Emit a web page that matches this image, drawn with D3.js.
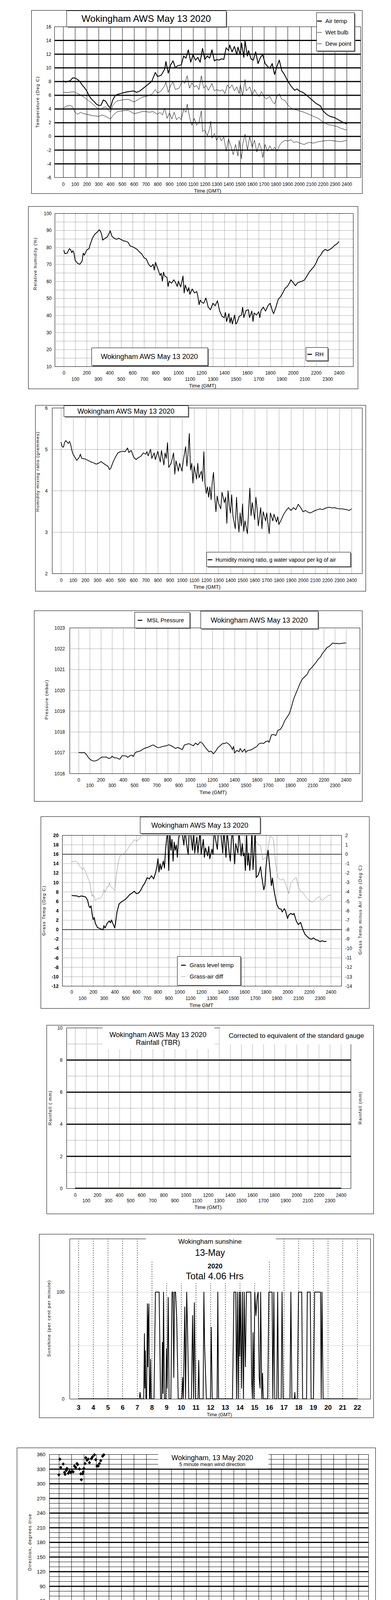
<!DOCTYPE html>
<html>
<head>
<meta charset="utf-8">
<script src="https://cdn.jsdelivr.net/npm/d3@7"></script>
<style>
  body { margin: 0; background: #fff; }
  svg { display: block; }
</style>
</head>
<body>
<svg id="chart" width="1000" height="5000"></svg>
<script>
// ---------- data (hour of day, value) ----------
const airTemp = [[0,8.1],[0.2,7.9],[0.4,8.0],[0.6,8.1],[0.8,8.5],[1,8.5],[1.2,8.3],[1.4,8.0],[1.6,7.5],[1.8,7.1],[2,6.6],[2.2,5.9],[2.4,5.4],[2.6,5.1],[2.8,4.7],[3,4.5],[3.2,4.5],[3.4,5.3],[3.6,5.1],[3.8,4.5],[4,4.1],[4.2,5.3],[4.4,5.9],[4.6,6.1],[5,6.3],[5.5,6.5],[6,6.6],[6.2,6.4],[6.5,6.6],[7,7.3],[7.5,8.0],[7.8,9.3],[8,8.7],[8.3,8.9],[8.6,9.8],[8.7,10.9],[8.9,9.2],[9.1,10.4],[9.3,11.0],[9.5,10.0],[9.7,10.3],[10,10.4],[10.2,11.7],[10.4,11.4],[10.6,12.6],[10.8,10.8],[11,11.9],[11.2,11.1],[11.4,11.5],[11.6,10.8],[11.8,12.8],[12,11.2],[12.2,11.7],[12.4,11.4],[12.6,12.6],[12.8,11.0],[13,11.2],[13.2,11.1],[13.4,11.3],[13.6,11.2],[13.8,12.9],[14,12.5],[14.1,13.3],[14.3,12.3],[14.5,13.1],[14.7,11.9],[14.8,13.0],[15,11.9],[15.1,13.6],[15.3,11.5],[15.4,13.9],[15.6,11.7],[15.7,12.5],[15.9,11.3],[16.1,11.1],[16.3,12.3],[16.5,10.6],[16.7,11.5],[16.9,11.9],[17.1,10.6],[17.3,10.2],[17.5,9.9],[17.7,10.6],[17.9,9.0],[18.1,10.2],[18.3,11.1],[18.5,9.6],[18.7,9.1],[19,8.1],[19.3,7.3],[19.6,6.7],[19.8,6.9],[20,6.6],[20.3,6.4],[20.6,6.0],[21,5.4],[21.4,4.8],[21.8,4.4],[22,3.7],[22.3,3.2],[22.6,2.9],[23,2.7],[23.3,2.4],[23.6,2.1],[24,1.8]];
const wetBulb = [[0,6.4],[0.5,6.4],[0.9,6.5],[1.0,6.4],[1.5,6.0],[2,5.4],[2.5,4.7],[2.9,4.1],[3.2,3.9],[3.4,4.2],[3.6,4.3],[3.8,3.9],[4,3.5],[4.2,4.5],[4.5,5.1],[5,5.3],[5.5,5.4],[6,5.0],[6.3,5.3],[6.7,5.7],[7,5.8],[7.5,6.1],[7.8,6.8],[8,6.3],[8.3,6.6],[8.6,7.4],[8.7,7.9],[8.9,6.4],[9.1,7.4],[9.3,7.9],[9.5,6.8],[9.8,7.0],[10.1,8.1],[10.3,7.7],[10.5,8.8],[10.7,7.0],[10.9,7.8],[11.1,7.2],[11.3,7.4],[11.5,6.8],[11.7,8.8],[11.9,7.0],[12.1,7.4],[12.3,6.7],[12.6,7.7],[12.8,6.6],[13,6.8],[13.3,6.6],[13.5,6.8],[13.7,6.2],[13.9,7.5],[14.1,7.0],[14.3,7.5],[14.5,6.6],[14.7,7.2],[14.9,6.2],[15,7.5],[15.2,5.9],[15.4,8.3],[15.5,6.6],[15.8,7.2],[16,6.0],[16.2,6.8],[16.4,6.2],[16.6,5.8],[16.8,6.5],[17,5.8],[17.2,5.4],[17.5,5.8],[17.7,5.1],[17.9,4.7],[18.1,5.8],[18.3,6.2],[18.5,5.4],[18.8,5.2],[19,4.6],[19.3,4.1],[19.6,3.9],[20,3.7],[20.4,3.5],[20.8,3.2],[21.2,2.9],[21.6,2.6],[22,2.1],[22.4,1.7],[22.8,1.6],[23.2,1.4],[23.6,1.1],[24,0.9]];
const dewPoint = [[0,4.1],[0.3,4.4],[0.6,4.5],[0.8,4.3],[1,3.5],[1.2,3.2],[1.5,3.5],[1.7,3.3],[2,3.2],[2.5,3.0],[3,2.9],[3.3,3.1],[3.6,2.9],[4,2.5],[4.3,3.2],[4.6,3.6],[5,3.7],[5.5,3.8],[6,3.3],[6.3,3.4],[6.7,3.6],[7,3.6],[7.3,3.5],[7.6,3.6],[7.8,3.4],[8,3.2],[8.2,3.5],[8.4,3.1],[8.6,4.1],[8.8,2.6],[9,3.4],[9.2,2.5],[9.4,3.5],[9.6,2.4],[9.8,2.8],[10,2.4],[10.2,3.9],[10.4,3.5],[10.5,4.7],[10.7,2.8],[10.9,1.6],[11.1,2.6],[11.3,1.6],[11.5,2.0],[11.7,3.7],[11.8,0.7],[12,0.9],[12.2,0.1],[12.4,1.1],[12.5,2.2],[12.6,-0.3],[12.8,0.4],[13,-0.6],[13.2,0.1],[13.4,-0.7],[13.6,-0.1],[13.8,-2.2],[14,-0.4],[14.2,-1.4],[14.4,-2.7],[14.6,-1.2],[14.8,-2.9],[14.9,-0.6],[15.1,-3.3],[15.2,-1.2],[15.4,0.3],[15.6,-2.0],[15.8,-0.1],[16,-1.6],[16.2,-0.6],[16.4,-2.3],[16.6,-1.0],[16.8,-2.0],[16.9,-3.1],[17.1,-1.2],[17.3,-2.2],[17.5,-1.4],[17.7,-2.1],[17.9,-1.6],[18.1,-2.2],[18.3,-1.4],[18.5,-0.9],[18.8,-0.6],[19,-0.7],[19.3,-0.5],[19.5,-0.9],[19.8,-0.8],[20,-1.0],[20.4,-1.2],[20.8,-0.9],[21.2,-1.0],[21.6,-0.8],[22,-0.7],[22.5,-0.6],[23,-0.7],[23.5,-0.8],[24,-0.6]];
const relHum = [[0,78.4],[0.1,76.3],[0.3,76.5],[0.4,78],[0.5,79.2],[0.6,78.6],[0.7,76.9],[0.8,78],[0.9,76.5],[1,72.3],[1.2,70.6],[1.4,70],[1.6,71.9],[1.7,76.5],[1.8,75.4],[2,78.4],[2.2,79.2],[2.3,81.5],[2.5,85.3],[2.7,87.6],[2.9,88.8],[3,89.5],[3.1,90.3],[3.2,89.5],[3.3,87.6],[3.4,84.2],[3.6,85.3],[3.8,86.1],[4,88.8],[4.05,89.8],[4.2,86.5],[4.4,85.3],[4.6,84.7],[4.8,85.3],[5,84.6],[5.2,83.8],[5.4,83.6],[5.6,83],[5.8,80.7],[6,80.4],[6.2,79.6],[6.4,78.8],[6.6,77.3],[6.8,76.1],[7,73.9],[7.2,73.1],[7.4,70],[7.6,68.5],[7.8,70],[7.9,66.6],[8,71.2],[8.2,67.4],[8.4,63.5],[8.5,64.7],[8.6,60.1],[8.7,65.4],[8.8,63.1],[9,62.4],[9.1,57],[9.2,60.1],[9.4,58.9],[9.6,60.9],[9.8,58.6],[9.9,57],[10,60.1],[10.2,56.7],[10.4,63.1],[10.5,53.2],[10.6,57.8],[10.8,54],[10.9,56.3],[11,52.4],[11.2,55.5],[11.4,53.2],[11.6,54],[11.7,50.9],[11.8,46.3],[11.9,49],[12,47.9],[12.2,47.1],[12.4,50.2],[12.6,44.8],[12.8,43.3],[13,47.1],[13.2,45.6],[13.4,48.6],[13.6,42.5],[13.8,39.4],[14,38.7],[14.1,41.7],[14.2,36.4],[14.4,41],[14.5,35.6],[14.6,38.7],[14.7,34.9],[14.9,40.2],[15,34.9],[15.1,35.6],[15.3,39.4],[15.5,40.2],[15.6,44.8],[15.7,38.7],[15.9,42.9],[16.1,43.3],[16.2,38.7],[16.4,42.5],[16.5,36.4],[16.6,41.4],[16.8,40.2],[17,42.1],[17.1,38.7],[17.2,42.9],[17.4,44.8],[17.6,42.5],[17.8,45.6],[18,47.1],[18.2,42.5],[18.3,41],[18.5,44.8],[18.7,49.4],[18.9,50.9],[19.1,53.2],[19.3,55.9],[19.5,57],[19.7,59.3],[19.8,60.9],[20,59.3],[20.2,57.4],[20.4,59.2],[20.6,59.7],[20.8,60.1],[21,60.9],[21.2,63.1],[21.4,65.4],[21.6,67],[21.8,68.5],[22,70.8],[22.2,73.9],[22.4,75.4],[22.6,77.7],[22.8,78.8],[23,78],[23.2,78.8],[23.4,79.6],[23.6,81.1],[23.8,81.9],[24,83.4]];
const mixRatio = [[0,5.17],[0.1,5.06],[0.2,5.05],[0.3,5.16],[0.4,5.21],[0.5,5.17],[0.6,5.14],[0.7,5.19],[0.8,5.11],[0.9,4.97],[1,4.88],[1.2,4.78],[1.3,4.73],[1.5,4.80],[1.6,4.88],[1.7,4.78],[1.9,4.77],[2.1,4.75],[2.3,4.72],[2.5,4.69],[2.7,4.67],[2.9,4.64],[3.1,4.66],[3.3,4.70],[3.5,4.66],[3.7,4.62],[3.9,4.58],[4,4.51],[4.1,4.53],[4.3,4.69],[4.5,4.81],[4.7,4.91],[4.9,4.94],[5.1,4.95],[5.3,4.94],[5.5,5.03],[5.6,4.92],[5.8,4.97],[5.9,4.89],[6,4.81],[6.2,4.75],[6.4,4.80],[6.6,4.83],[6.8,4.91],[7,4.88],[7.1,4.94],[7.2,4.84],[7.4,5.00],[7.5,4.78],[7.7,4.91],[7.8,4.75],[8,4.95],[8.2,4.69],[8.3,4.97],[8.5,4.62],[8.6,4.91],[8.7,4.78],[8.8,5.16],[8.9,4.56],[9.1,4.66],[9.3,4.91],[9.4,4.40],[9.5,4.72],[9.7,4.47],[9.8,4.66],[10,4.47],[10.1,4.72],[10.3,5.06],[10.4,4.59],[10.5,4.91],[10.6,5.38],[10.7,4.50],[10.8,4.66],[10.9,4.18],[11,4.59],[11.2,4.28],[11.3,4.66],[11.4,4.31],[11.6,4.47],[11.7,4.22],[11.8,4.94],[11.9,4.15],[12,3.93],[12.1,4.09],[12.2,3.84],[12.3,4.09],[12.4,3.78],[12.5,4.22],[12.6,4.44],[12.7,3.84],[12.8,3.49],[12.9,3.87],[13,3.71],[13.2,3.56],[13.3,3.96],[13.5,3.71],[13.6,3.84],[13.7,3.21],[13.8,4.00],[13.9,3.65],[14,3.46],[14.1,3.90],[14.2,3.40],[14.4,3.08],[14.5,3.84],[14.6,3.34],[14.7,3.00],[14.8,3.46],[14.9,3.15],[15,3.68],[15.1,3.02],[15.2,3.27],[15.4,2.96],[15.5,3.52],[15.6,4.06],[15.7,3.40],[15.8,3.71],[16,3.30],[16.1,3.84],[16.2,3.56],[16.3,3.15],[16.5,3.59],[16.6,3.08],[16.7,3.49],[16.9,3.27],[17,3.46],[17.1,3.21],[17.2,2.96],[17.3,3.46],[17.5,3.27],[17.6,3.43],[17.8,3.24],[17.9,3.37],[18,3.18],[18.2,3.30],[18.4,3.43],[18.6,3.52],[18.8,3.59],[19,3.52],[19.2,3.59],[19.4,3.54],[19.6,3.67],[19.8,3.59],[20,3.49],[20.2,3.52],[20.4,3.48],[20.6,3.46],[20.8,3.49],[21,3.52],[21.2,3.54],[21.4,3.56],[21.6,3.54],[21.8,3.57],[22,3.59],[22.2,3.60],[22.4,3.58],[22.6,3.59],[22.8,3.57],[23,3.56],[23.2,3.56],[23.4,3.55],[23.6,3.54],[23.8,3.52],[24,3.56]];
const mslPressure = [[0,1017.01],[0.3,1016.99],[0.5,1017.01],[0.7,1016.91],[0.9,1016.75],[1.1,1016.65],[1.3,1016.60],[1.5,1016.60],[1.7,1016.64],[1.9,1016.72],[2.1,1016.79],[2.3,1016.78],[2.5,1016.79],[2.7,1016.72],[2.9,1016.75],[3,1016.83],[3.2,1016.75],[3.4,1016.75],[3.6,1016.70],[3.7,1016.68],[3.9,1016.85],[4.1,1016.85],[4.3,1016.83],[4.4,1016.77],[4.6,1016.85],[4.8,1016.88],[4.9,1016.81],[5.1,1017.01],[5.3,1017.05],[5.5,1017.07],[5.7,1017.14],[5.9,1017.20],[6.1,1017.24],[6.3,1017.27],[6.5,1017.33],[6.7,1017.37],[6.9,1017.30],[7.1,1017.24],[7.3,1017.25],[7.5,1017.29],[7.7,1017.31],[7.9,1017.33],[8.1,1017.38],[8.3,1017.33],[8.5,1017.27],[8.7,1017.20],[8.9,1017.25],[9.1,1017.20],[9.3,1017.14],[9.5,1017.37],[9.7,1017.40],[9.9,1017.43],[10.1,1017.38],[10.3,1017.33],[10.5,1017.46],[10.7,1017.37],[10.9,1017.51],[11.1,1017.46],[11.3,1017.30],[11.5,1017.17],[11.7,1017.04],[11.9,1017.07],[12.1,1016.94],[12.3,1017.07],[12.5,1017.24],[12.7,1017.33],[12.9,1017.43],[13.1,1017.44],[13.3,1017.48],[13.5,1017.40],[13.7,1017.27],[13.8,1017.14],[13.9,1017.30],[14,1016.98],[14.2,1017.11],[14.4,1017.04],[14.5,1017.20],[14.7,1017.03],[14.9,1017.17],[15,1017.01],[15.2,1017.11],[15.4,1017.12],[15.6,1017.17],[15.8,1017.24],[16,1017.30],[16.2,1017.43],[16.4,1017.46],[16.6,1017.44],[16.8,1017.53],[17,1017.56],[17.1,1017.50],[17.3,1017.85],[17.5,1017.87],[17.7,1017.82],[17.9,1018.08],[18.1,1018.11],[18.3,1018.28],[18.5,1018.54],[18.7,1018.70],[18.9,1018.86],[19.1,1019.19],[19.3,1019.58],[19.5,1019.84],[19.7,1020.10],[19.9,1020.36],[20.1,1020.55],[20.3,1020.65],[20.5,1020.75],[20.7,1020.97],[20.9,1021.07],[21.1,1021.20],[21.3,1021.33],[21.5,1021.49],[21.7,1021.59],[21.9,1021.78],[22.1,1021.91],[22.3,1022.05],[22.5,1022.11],[22.7,1022.21],[22.8,1022.27],[23,1022.24],[23.2,1022.25],[23.4,1022.23],[23.6,1022.25],[24,1022.27]];
const grassTemp = [[0,7.2],[0.5,7.1],[0.7,6.9],[0.9,7.1],[1.1,7.0],[1.3,6.9],[1.5,6.1],[1.6,5.0],[1.7,4.6],[1.8,5.0],[1.9,3.3],[2,2.1],[2.1,2.5],[2.2,1.3],[2.4,0.4],[2.6,0.2],[2.8,0.0],[2.9,-0.1],[3,0.8],[3.1,0.3],[3.3,1.3],[3.5,1.8],[3.6,1.4],[3.7,2.0],[3.8,1.4],[4,0.3],[4.1,1.8],[4.2,3.6],[4.4,5.4],[4.6,5.8],[4.8,6.1],[5,6.4],[5.2,6.9],[5.4,7.4],[5.6,7.7],[5.8,8.1],[6,7.6],[6.2,7.7],[6.4,8.3],[6.6,9.2],[6.8,9.9],[7,11.0],[7.2,10.7],[7.4,11.4],[7.6,10.7],[7.8,12.2],[7.9,13.3],[8,15.0],[8.1,12.2],[8.2,13.9],[8.3,12.7],[8.5,14.5],[8.6,13.0],[8.7,16.8],[8.8,19.3],[8.9,20.5],[9,12.5],[9.1,20.5],[9.2,16.8],[9.3,19.1],[9.4,14.5],[9.5,18.5],[9.6,16.8],[9.7,17.9],[9.8,15.3],[9.9,19.1],[10,20.5],[10.2,21],[10.4,17.9],[10.5,21],[10.7,17.3],[10.8,15.9],[10.9,21],[11,21],[11.2,16.8],[11.3,21],[11.4,16.2],[11.6,19.6],[11.7,16.2],[11.9,21],[12,15.9],[12.2,19.1],[12.3,15.3],[12.4,17.3],[12.6,15.6],[12.7,17.6],[12.8,15.0],[13,17.0],[13.1,15.9],[13.2,21],[13.4,18.2],[13.5,17.0],[13.6,21],[13.8,21],[14,16.2],[14.1,21],[14.3,15.3],[14.4,21],[14.6,16.2],[14.7,14.5],[14.8,19.1],[14.9,21],[15.1,13.9],[15.2,18.2],[15.4,16.2],[15.5,21],[15.7,15.6],[15.8,18.2],[15.9,15.6],[16,16.2],[16.1,12.5],[16.2,21],[16.3,13.6],[16.4,16.2],[16.5,12.5],[16.6,15.3],[16.7,21],[16.8,12.7],[16.9,16.2],[17,21],[17.1,11.0],[17.3,11.6],[17.5,13.3],[17.6,11.3],[17.8,8.4],[17.9,9.3],[18,13.3],[18.1,15.3],[18.2,16.8],[18.3,14.2],[18.4,11.9],[18.5,9.3],[18.6,10.9],[18.7,9.0],[18.8,7.6],[18.9,6.4],[19,5.3],[19.2,4.4],[19.4,4.3],[19.5,3.7],[19.7,4.4],[19.8,4.0],[20,2.3],[20.1,3.0],[20.3,3.4],[20.5,3.1],[20.6,3.4],[20.8,1.8],[21,1.0],[21.2,1.5],[21.4,0.1],[21.6,-1.0],[21.8,-1.5],[22,-1.9],[22.2,-2.1],[22.4,-1.8],[22.6,-2.2],[22.8,-2.3],[23,-2.6],[23.2,-2.4],[23.4,-2.6],[23.6,-2.5]];
const grassAirDiff = [[0,-0.84],[0.2,-0.80],[0.4,-0.74],[0.6,-0.98],[0.8,-1.34],[1,-1.63],[1.1,-1.41],[1.3,-1.92],[1.4,-2.2],[1.6,-2.78],[1.7,-3.06],[1.8,-3.93],[1.9,-4.5],[2,-4.28],[2.2,-4.93],[2.3,-4.86],[2.5,-4.64],[2.6,-4.79],[2.8,-4.5],[2.9,-4.21],[3,-3.78],[3.1,-4.07],[3.3,-3.42],[3.4,-3.49],[3.5,-3.06],[3.6,-3.42],[3.8,-3.64],[4,-3.85],[4.1,-2.78],[4.2,-1.77],[4.3,-1.06],[4.4,-0.48],[4.5,-0.2],[4.7,-0.05],[5,0.24],[5.2,0.52],[5.4,0.95],[5.6,1.17],[5.8,1.53],[6,1.38],[6.2,1.53],[6.4,1.81],[6.5,2.03],[6.6,2.4],[7,3.2],[8,4.5],[10,7],[12,6.5],[14,7],[16,5],[16.6,3],[16.8,2.2],[16.9,1.5],[17.1,1.3],[17.3,1.0],[17.5,0.9],[17.7,-0.63],[18,-0.34],[18.2,0.67],[18.4,2.0],[18.7,1.5],[18.8,0.1],[18.9,-1.06],[19,-1.77],[19.1,-2.5],[19.4,-2.78],[19.6,-2.63],[19.8,-3.06],[20.1,-4.21],[20.3,-3.06],[20.5,-2.78],[20.8,-2.49],[21,-3.49],[21.2,-3.93],[21.5,-4.21],[21.7,-4.57],[22,-4.93],[22.3,-5.14],[22.6,-4.79],[22.9,-4.5],[23.2,-4.93],[23.5,-4.64],[23.8,-4.36],[24,-4.43]];
const rainfall = [[0,0],[24,0]];
const sunshine = [[3,0],[7.15,0],[7.2,6],[7.25,0],[7.45,0],[7.5,61],[7.53,10],[7.56,45],[7.6,0],[7.65,0],[7.7,89],[7.73,30],[7.76,72],[7.8,89],[7.84,0],[7.88,0],[7.92,37],[7.96,0],[8.15,0],[8.25,100],[8.5,100],[8.6,0],[8.68,0],[8.72,53],[8.76,5],[8.8,100],[8.86,0],[8.95,0],[9.0,47],[9.05,10],[9.12,95],[9.18,0],[9.3,0],[9.38,100],[9.45,100],[9.5,20],[9.55,100],[9.62,100],[9.7,75],[9.8,0],[10.05,0],[10.1,20],[10.15,0],[10.25,86],[10.3,0],[10.38,100],[10.45,55],[10.52,0],[10.7,0],[10.78,78],[10.85,0],[10.9,90],[10.98,0],[11.15,0],[11.2,36],[11.25,0],[11.5,0],[11.55,100],[11.6,50],[11.72,0],[12.0,0],[12.05,67],[12.12,0],[12.45,0],[12.5,100],[12.55,0],[13.5,0],[13.6,100],[13.72,100],[13.78,0],[13.84,100],[13.9,0],[13.96,100],[14.0,40],[14.05,100],[14.12,10],[14.18,100],[14.25,0],[14.3,100],[14.38,30],[14.45,100],[14.75,100],[14.8,20],[14.86,0],[14.9,62],[14.96,0],[15.02,100],[15.1,78],[15.18,95],[15.25,100],[15.32,20],[15.38,10],[15.42,100],[15.5,0],[15.55,24],[15.6,0],[15.9,0],[15.98,100],[16.2,100],[16.25,0],[16.32,100],[16.38,0],[16.52,0],[16.58,100],[16.64,0],[16.82,0],[16.88,100],[16.95,0],[17.42,0],[17.48,100],[17.55,0],[17.72,0],[17.75,6],[17.78,0],[17.92,0],[18.0,100],[18.22,100],[18.28,0],[18.55,0],[18.6,100],[18.8,100],[18.86,0],[19.02,0],[19.1,100],[19.5,100],[19.55,0],[19.6,100],[19.68,0],[22,0]];
const windDir = [[0,318],[0.08,350],[0.15,333],[0.25,3],[0.35,340],[0.45,323],[0.5,319],[0.6,327],[0.65,331],[0.75,321],[0.85,325],[0.95,323],[1.05,325],[1.15,324],[1.25,336],[1.35,333],[1.45,341],[1.5,339],[1.65,330],[1.75,320],[1.8,308],[1.9,320],[1.95,324],[2,331],[2.1,341],[2.15,353],[2.25,348],[2.35,350],[2.45,343],[2.6,351],[2.7,355],[2.75,3],[2.85,359],[2.95,349],[3.05,336],[3.15,336],[3.25,341],[3.35,347],[3.5,356],[3.6,359],[3.65,0],[3.75,7],[3.85,11],[3.95,12],[4.05,14],[4.15,15],[4.3,19],[4.4,21],[4.5,16],[4.6,20],[4.7,21],[4.85,19],[5,27],[5.1,31],[5.2,26],[5.3,24],[5.4,27],[5.5,24],[5.6,27],[5.75,28],[5.85,25],[5.95,15],[6.05,20],[6.15,15],[6.3,30],[6.4,24],[6.55,19],[6.65,20],[6.8,23],[6.9,27],[7,19],[7.1,24],[7.25,13],[7.35,16],[7.5,21],[7.65,24],[7.8,26],[7.95,23],[8.1,9],[8.25,19],[8.35,24],[8.45,43],[8.55,56],[8.6,43],[8.75,24],[8.85,19],[9,24],[9.15,13],[9.25,23],[9.4,15],[9.5,25],[9.65,40],[9.75,33],[9.8,47],[9.95,28],[10.1,33],[10.2,24],[10.35,37],[10.45,32],[10.6,45],[10.7,25],[10.85,31],[11,21],[11.15,36],[11.3,45],[11.4,44],[11.5,31],[11.65,33],[11.8,21],[11.9,36],[12.05,31],[12.15,43],[12.3,23],[12.4,19],[12.55,15],[12.7,20],[12.85,24],[13,20],[13.1,13],[13.25,29],[13.35,12],[13.5,23],[13.65,25],[13.75,19],[13.9,32],[14,17],[14.15,23],[14.3,16],[14.4,13],[14.55,19],[14.7,36],[14.85,31],[14.95,13],[15.1,32],[15.2,41],[15.3,47],[15.4,25],[15.55,23],[15.65,36],[15.75,47],[15.9,19],[16,25],[16.15,13],[16.25,24],[16.4,28],[16.5,17],[16.65,25],[16.75,33],[16.9,23],[17.05,20],[17.2,17],[17.35,29],[17.5,20],[17.65,23],[17.8,27],[17.9,12],[18.05,33],[18.2,25],[18.35,40],[18.45,28],[18.6,23],[18.7,33],[18.85,28],[18.95,32],[19.1,25],[19.25,28],[19.4,25],[19.55,31],[19.7,35],[19.85,32],[20,37],[20.1,29],[20.25,25],[20.4,27],[20.55,28],[20.7,26],[20.85,29],[21,27],[21.15,29],[21.3,27],[21.45,23],[21.6,27],[21.75,24],[21.9,27],[22.05,23],[22.2,26],[22.35,23],[22.5,25],[22.65,24],[22.8,28],[22.9,32],[23.05,36],[23.2,24],[23.35,21],[23.5,20],[23.65,19],[23.8,17]];
const windMean = [[0,1.2],[0.2,1.4],[0.4,1.5],[0.5,2.4],[0.7,2.6],[0.9,2.9],[1.1,2.6],[1.3,3.1],[1.5,2.9],[1.7,3.3],[1.9,2.6],[2,3.9],[2.1,4.4],[2.2,3.7],[2.4,3.3],[2.6,2.9],[2.8,2.6],[3,2.2],[3.1,2.1],[3.3,2.6],[3.5,3.3],[3.7,3.7],[3.9,3.3],[4,4.8],[4.2,5.3],[4.4,6.1],[4.5,4.8],[4.7,6.6],[4.9,5.7],[5,7.7],[5.1,7.5],[5.3,5.0],[5.4,6.6],[5.6,5.0],[5.8,6.1],[6,7.5],[6.1,6.4],[6.3,4.8],[6.5,6.1],[6.7,4.4],[6.9,6.6],[7,7.9],[7.2,5.7],[7.4,6.6],[7.6,7.5],[7.8,7.0],[8,8.6],[8.1,7.0],[8.3,8.1],[8.4,9.6],[8.6,6.6],[8.8,8.3],[9,7.9],[9.2,8.6],[9.4,7.2],[9.5,8.8],[9.6,11.0],[9.7,9.2],[9.9,7.7],[10,9.4],[10.2,8.1],[10.4,7.2],[10.6,7.9],[10.8,7.5],[11,8.8],[11.2,9.9],[11.4,8.3],[11.6,9.6],[11.8,8.6],[12,9.0],[12.2,8.3],[12.4,9.9],[12.6,8.3],[12.8,9.9],[12.9,11.8],[13,10.7],[13.1,9.2],[13.3,12.9],[13.5,10.5],[13.7,8.6],[13.9,9.2],[14,5.9],[14.2,8.3],[14.4,10.1],[14.5,9.2],[14.7,9.6],[14.9,8.8],[15,10.1],[15.2,8.3],[15.4,7.7],[15.6,9.4],[15.8,8.8],[16,8.6],[16.2,9.6],[16.4,8.3],[16.5,7.5],[16.7,6.8],[16.9,7.9],[17,11.0],[17.2,9.6],[17.4,10.1],[17.6,8.6],[17.8,7.7],[18,9.6],[18.2,10.7],[18.4,9.2],[18.6,7.2],[18.8,6.1],[19,7.0],[19.2,5.3],[19.4,5.7],[19.6,4.8],[19.8,5.7],[20,6.6],[20.2,5.3],[20.4,5.5],[20.6,4.8],[20.8,5.5],[21,4.8],[21.2,5.3],[21.4,4.4],[21.6,4.6],[21.8,2.9],[22,3.1],[22.2,2.2],[22.3,2.3],[22.5,3.3],[22.7,4.2],[22.8,4.6],[23,3.1],[23.2,3.3],[23.4,3.7],[23.6,3.9],[23.8,3.7],[24,3.9]];
const windGust = [[0,1.8],[0.2,2.6],[0.3,4.4],[0.4,3.5],[0.5,5.3],[0.6,3.9],[0.8,5.7],[0.9,3.9],[1,5.3],[1.1,3.7],[1.3,6.1],[1.4,3.9],[1.6,5.3],[1.8,3.9],[2,7.9],[2.1,5.7],[2.2,4.8],[2.4,4.4],[2.6,3.1],[2.8,3.5],[3,2.6],[3.1,3.9],[3.3,5.0],[3.4,3.5],[3.6,5.7],[3.8,4.4],[3.9,7.0],[4,9.2],[4.1,6.6],[4.2,10.1],[4.3,7.5],[4.5,10.7],[4.6,6.6],[4.8,12.5],[4.9,8.3],[5,13.6],[5.1,10.5],[5.3,8.8],[5.4,10.5],[5.6,11.8],[5.7,8.3],[5.9,13.6],[6,9.2],[6.2,11.0],[6.4,9.6],[6.5,10.5],[6.6,7.0],[6.8,11.4],[6.9,8.8],[7,11.6],[7.2,8.8],[7.4,12.7],[7.5,9.6],[7.6,14.0],[7.7,10.5],[7.9,13.2],[8,15.4],[8.1,11.0],[8.3,13.6],[8.4,15.8],[8.5,11.0],[8.7,14.0],[8.8,11.4],[9,15.4],[9.1,11.0],[9.2,16.7],[9.3,12.3],[9.5,13.6],[9.6,18.9],[9.7,12.7],[9.9,15.4],[10,11.8],[10.2,14.9],[10.3,11.0],[10.5,13.2],[10.6,17.1],[10.8,12.7],[11,14.5],[11.2,20.6],[11.3,13.2],[11.5,18.0],[11.6,14.0],[11.8,16.2],[12,13.6],[12.1,18.9],[12.3,14.5],[12.5,19.7],[12.6,16.2],[12.8,17.1],[12.9,21.5],[13,17.5],[13.2,15.4],[13.3,22.4],[13.4,17.1],[13.6,15.4],[13.8,12.7],[14,11.0],[14.1,15.4],[14.3,18.4],[14.5,14.5],[14.6,18.4],[14.8,15.4],[15,17.5],[15.1,13.6],[15.3,16.2],[15.5,12.7],[15.6,17.1],[15.8,14.5],[16,16.2],[16.1,13.6],[16.3,16.2],[16.5,12.7],[16.6,16.2],[16.8,11.0],[16.9,15.4],[17,21.1],[17.2,15.4],[17.4,17.5],[17.5,13.6],[17.7,16.2],[17.9,12.7],[18,20.2],[18.2,16.2],[18.3,18.9],[18.5,15.4],[18.7,13.2],[18.8,11.0],[19,13.2],[19.2,9.2],[19.4,11.0],[19.5,8.3],[19.7,10.1],[19.9,7.5],[20,9.2],[20.2,7.5],[20.4,9.2],[20.5,6.6],[20.7,8.8],[20.9,6.6],[21,8.3],[21.2,6.1],[21.4,7.5],[21.5,5.3],[21.7,4.4],[21.8,3.1],[22,3.9],[22.2,3.1],[22.3,2.2],[22.5,4.4],[22.7,5.7],[22.8,7.7],[22.9,6.1],[23.1,5.3],[23.2,6.6],[23.4,4.8],[23.5,6.1],[23.7,5.3],[23.8,6.6],[24,4.4]];
const windLow = [[0,11.2],[0.05,12.1],[0.1,13.8],[0.15,13.2],[0.2,14.5],[0.3,13.4],[0.35,12.7],[0.4,14.9],[0.45,16.4],[0.5,18.0],[0.52,19.5],[0.55,20.8],[0.6,22.4],[0.62,24.1],[0.65,25.7],[0.7,26.5],[0.75,25.0],[0.8,24.1],[0.85,25.9],[0.9,27.6],[0.95,29.4],[1,30.9],[1.05,28.1],[1.1,26.3],[1.15,28.7],[1.2,30.3],[1.25,32.0],[1.3,33.8],[1.35,32.7],[1.4,30.3],[1.45,29.0],[1.5,27.2],[1.55,28.7],[1.6,30.9],[1.65,32.9],[1.7,34.6],[1.75,32.0],[1.8,29.4],[1.85,26.8],[1.9,24.1],[1.95,28.5],[2,32.9],[2.05,36.4],[2.1,37.7],[2.15,35.1],[2.2,33.3],[2.3,32.5],[2.35,30.9],[2.4,29.4],[2.45,27.2],[2.5,25.4],[2.55,23.7],[2.6,22.8],[2.65,24.1],[2.7,21.9],[2.75,21.1],[2.8,22.4],[2.85,21.5],[2.9,20.4],[2.95,22.4],[3,24.1],[3.05,26.3],[3.1,28.5],[3.15,31.1],[3.2,33.3],[3.25,35.5],[3.3,33.8],[3.35,32.0],[3.4,34.6],[3.45,36.8],[3.5,38.6],[3.55,39.9],[3.6,37.3],[3.65,35.1],[3.7,33.3],[3.75,30.9],[3.8,28.5],[3.85,32.0],[3.9,36.4],[3.95,39.5],[4,38.2],[21.6,39.9],[21.7,38.2],[21.8,36.4],[21.85,33.8],[21.9,30.3],[21.95,27.6],[22,26.3],[22.05,31.6],[22.1,28.9],[22.15,27.6],[22.2,25.9],[22.25,24.1],[22.3,22.4],[22.35,21.1],[22.4,23.2],[22.45,25.9],[22.5,28.5],[22.55,31.1],[22.6,33.8],[22.65,36.4],[22.7,39.0],[22.75,37.3],[22.8,36.0],[22.85,39.0],[22.9,37.3],[22.95,35.1],[23,33.8],[23.05,31.1],[23.1,28.9],[23.15,30.3],[23.2,32.0],[23.25,33.3],[23.3,30.7],[23.35,28.9],[23.4,31.1],[23.45,33.8],[23.5,36.4],[23.55,38.2],[23.6,39.5],[23.65,36.8],[23.7,38.2],[23.75,39.5],[23.8,37.7],[23.85,38.6],[23.9,37.3]];

// ---------- ticks ----------
const hourTicks = [0,1,2,3,4,5,6,7,8,9,10,11,12,13,14,15,16,17,18,19,20,21,22,23,24];
const evenHours = [0,2,4,6,8,10,12,14,16,18,20,22,24];
const oddHours = [1,3,5,7,9,11,13,15,17,19,21,23];
const sunHours = [3,4,5,6,7,8,9,10,11,12,13,14,15,16,17,18,19,20,21,22];
const windEven = [0,2,4,6,8,10,12,14,16,18,20,22];
const windOdd = [1,3,5,7,9,11,13,15,17,19,21,23];
const tempTicks = [-6,-4,-2,0,2,4,6,8,10,12,14,16];
const rhTicks = [10,20,30,40,50,60,70,80,90,100];
const rhGrid = [15,20,25,30,35,40,45,50,55,60,65,70,75,80,85,90,95];
const mixTicks = [2,3,4,5,6];
const presTicks = [1016,1017,1018,1019,1020,1021,1022,1023];
const grassTicks = [-12,-10,-8,-6,-4,-2,0,2,4,6,8,10,12,14,16,18,20];
const diffTicks = [-14,-13,-12,-11,-10,-9,-8,-7,-6,-5,-4,-3,-2,-1,0,1,2];
const rainTicks = [0,2,4,6,8,10];
const sunTicks = [0,100];
const dirTicks = [0,30,60,90,120,150,180,210,240,270,300,330,360];
const dirThin = [10,20,40,50,70,80,100,110,130,140,160,170,190,200,220,230,250,260,280,290,310,320,340,350];
const speedTicks = [0,10,20,30,40,50];
const speedGrid = [5,10,15,20,25,30,35,40,45];

const FONT = "'Liberation Sans', Arial, sans-serif";
const svg = d3.select('#chart');
svg.append('rect').attr('width', 1000).attr('height', 5000).attr('fill', '#fff');
const defs = svg.append('defs');

function frame(x0, y0, x1, y1) {
  svg.append('rect').attr('x', x0 + 0.5).attr('y', y0 + 0.5).attr('width', x1 - x0).attr('height', y1 - y0)
    .attr('fill', 'none').attr('stroke', '#000').attr('stroke-width', 1);
}
function box(x0, y0, x1, y1, shadow, border) {
  if (shadow) svg.append('rect').attr('x', x0 + 3).attr('y', y0 + 3).attr('width', x1 - x0).attr('height', y1 - y0).attr('fill', '#808080');
  svg.append('rect').attr('x', x0 + 0.5).attr('y', y0 + 0.5).attr('width', x1 - x0).attr('height', y1 - y0)
    .attr('fill', '#fff').attr('stroke', border === false ? 'none' : '#000');
}
function text(x, y, s, size, opts = {}) {
  return svg.append('text').attr('x', x).attr('y', y).attr('font-family', FONT).attr('font-size', size)
    .attr('text-anchor', opts.anchor || 'middle').attr('font-weight', opts.weight || 'normal').attr('fill', '#000').text(s);
}
function yTitle(x, y, s) {
  svg.append('text').attr('transform', `translate(${x},${y}) rotate(-90)`).attr('text-anchor', 'middle').attr('dy', '0.35em')
    .attr('font-family', FONT).attr('font-size', 11.5).attr('letter-spacing', 1.3).attr('fill', '#000').text(s);
}
function makeClip(id, x0, y0, x1, y1) {
  defs.append('clipPath').attr('id', id).append('rect').attr('x', x0).attr('y', y0).attr('width', x1 - x0).attr('height', y1 - y0);
  return `url(#${id})`;
}
// gridlines drawn with axes, their (empty) labels dropped
function gridH(y, values, x0, x1) {
  const g = svg.append('g').attr('transform', `translate(${x0},0)`)
    .call(d3.axisLeft(y).tickValues(values).tickSize(-(x1 - x0)).tickFormat(''));
  g.select('.domain').remove();
  g.selectAll('text').remove();
  return g.selectAll('line').attr('stroke', '#000');
}
function gridV(x, values, y0, y1) {
  const g = svg.append('g').attr('transform', `translate(0,${y1})`)
    .call(d3.axisBottom(x).tickValues(values).tickSize(-(y1 - y0)).tickFormat(''));
  g.select('.domain').remove();
  g.selectAll('text').remove();
  return g.selectAll('line').attr('stroke', '#000');
}
function labelsX(x, values, y, fmt, size, weight) {
  const g = svg.append('g').attr('transform', `translate(0,${y})`)
    .call(d3.axisBottom(x).tickValues(values).tickSize(0).tickFormat(fmt));
  g.select('.domain').remove();
  g.selectAll('line').remove();
  g.selectAll('text').attr('y', 0).attr('dy', '0.35em').attr('font-family', FONT).attr('font-size', size)
    .attr('font-weight', weight || 'normal').attr('fill', '#000');
}
function labelsY(y, values, x, size, right, weight) {
  const g = svg.append('g').attr('transform', `translate(${x},0)`)
    .call((right ? d3.axisRight(y) : d3.axisLeft(y)).tickValues(values).tickSize(0).tickFormat(d => d));
  g.select('.domain').remove();
  g.selectAll('line').remove();
  g.selectAll('text').attr('x', 0).attr('dy', '0.35em').attr('font-family', FONT).attr('font-size', size)
    .attr('font-weight', weight || 'normal').attr('fill', '#000');
}
function drawLine(data, x, y, color, width, clip) {
  return svg.append('path').datum(data)
    .attr('d', d3.line().x(d => x(d[0])).y(d => y(d[1])))
    .attr('fill', 'none').attr('stroke', color).attr('stroke-width', width)
    .attr('stroke-linejoin', 'round').attr('clip-path', clip);
}
function legendLine(x, y, color, width) {
  svg.append('line').attr('x1', x).attr('x2', x + 12).attr('y1', y).attr('y2', y).attr('stroke', color).attr('stroke-width', width);
}
const rhombus = (hw, hh) => ({ draw(ctx) { ctx.moveTo(0, -hh); ctx.lineTo(hw, 0); ctx.lineTo(0, hh); ctx.lineTo(-hw, 0); ctx.closePath(); } });

// ---------- 1. temperatures ----------
{
  const x = d3.scaleLinear().domain([0, 24]).range([161.5, 886.5]);
  const y = d3.scaleLinear().domain([-6, 16]).range([454, 68]);
  frame(80, 26, 926, 495);
  gridV(x, hourTicks, 68, 454).attr('stroke-width', 1);
  gridH(y, tempTicks.slice(1, -1), 139, 922).attr('stroke-width', 3);
  frame(139, 68, 922, 454);
  const clip = makeClip('c1', 139, 68, 922, 454);
  drawLine(dewPoint, x, y, '#000', 1, clip);
  drawLine(wetBulb, x, y, '#000', 1, clip);
  drawLine(airTemp, x, y, '#000', 2.2, clip);
  labelsY(y, tempTicks, 131, 12);
  labelsX(x, hourTicks, 472, d => d * 100, 12);
  text(531, 493, 'Time (GMT)', 13);
  yTitle(96, 261, 'Temperature (Deg C)');
  box(170, 27, 578, 68, true);
  text(374, 56, 'Wokingham AWS May 13 2020', 24);
  box(809, 32, 906, 130, true);
  legendLine(811, 54, '#000', 2.5); text(832, 59, 'Air temp', 15, { anchor: 'start' });
  legendLine(811, 83, '#000', 1); text(832, 88, 'Wet bulb', 15, { anchor: 'start' });
  legendLine(811, 112, '#000', 1); text(832, 117, 'Dew point', 15, { anchor: 'start' });
}

// ---------- 2. relative humidity ----------
{
  const x = d3.scaleLinear().domain([0, 24]).range([163, 867]);
  const y = d3.scaleLinear().domain([10, 100]).range([938, 546]);
  frame(72, 528, 915, 995);
  gridV(x, hourTicks, 546, 938).attr('stroke-dasharray', '1,2');
  gridH(y, rhGrid, 140, 903).attr('stroke-dasharray', '1,2');
  frame(140, 546, 903, 938);
  drawLine(relHum, x, y, '#000', 2, makeClip('c2', 140, 546, 903, 938));
  labelsY(y, rhTicks, 132, 12);
  labelsX(x, evenHours, 955, d => d * 100, 12);
  labelsX(x, oddHours, 971, d => d * 100, 12);
  text(518, 992, 'Time (GMT)', 13);
  yTitle(90, 675, 'Relative humidity (%)');
  box(234, 890, 531, 935, true);
  text(382, 919, 'Wokingham AWS May 13 2020', 18);
  box(782, 889, 838, 923, true);
  legendLine(786, 907, '#000', 2.5); text(806, 912, 'RH', 15, { anchor: 'start' });
}

// ---------- 3. mixing ratio ----------
{
  const x = d3.scaleLinear().domain([0, 24]).range([156, 899]);
  const y = d3.scaleLinear().domain([2, 6]).range([1468, 1044]);
  frame(90, 1037, 935, 1513);
  gridV(x, hourTicks, 1044, 1468).attr('stroke-dasharray', '1,2');
  gridH(y, [3, 4, 5], 133, 926).attr('stroke-dasharray', '1,2');
  frame(133, 1044, 926, 1468);
  drawLine(mixRatio, x, y, '#000', 1.8, makeClip('c3', 133, 1044, 926, 1468));
  labelsY(y, mixTicks, 122, 12);
  labelsX(x, hourTicks, 1486, d => d * 100, 12);
  text(529, 1507, 'Time (GMT)', 13);
  yTitle(96, 1207, 'Humidity mixing ratio (grammes)');
  box(163, 1038, 481, 1066, true);
  text(322, 1059, 'Wokingham AWS May 13 2020', 18);
  box(528, 1413, 896, 1450, true);
  legendLine(531, 1433, '#000', 2.5);
  text(551, 1438, 'Humidity mixing ratio, g water vapour per kg of air', 14, { anchor: 'start' });
}

// ---------- 4. pressure ----------
{
  const x = d3.scaleLinear().domain([0, 24]).range([201, 885]);
  const y = d3.scaleLinear().domain([1016, 1023]).range([1980, 1607]);
  frame(87, 1563, 926, 2051);
  gridV(x, hourTicks, 1607, 1980).attr('stroke-dasharray', '1,2');
  gridH(y, presTicks.slice(1, -1), 178, 920).attr('stroke-dasharray', '1,2');
  frame(178, 1607, 920, 1980);
  drawLine(mslPressure, x, y, '#000', 1.8, makeClip('c4', 178, 1607, 920, 1980));
  labelsY(y, presTicks, 166, 12);
  labelsX(x, evenHours, 1997, d => d * 100, 12);
  labelsX(x, oddHours, 2011, d => d * 100, 12);
  text(545, 2033, 'Time (GMT)', 13);
  yTitle(119, 1791, 'Pressure (mbar)');
  box(344, 1567, 485, 1607, true);
  legendLine(352, 1588, '#000', 2.5); text(376, 1593, 'MSL Pressure', 15, { anchor: 'start' });
  box(513, 1564, 813, 1609, true);
  text(663, 1594, 'Wokingham AWS May 13 2020', 18);
}

// ---------- 5. grass temperature ----------
{
  const x = d3.scaleLinear().domain([0, 24]).range([183, 846]);
  const yL = d3.scaleLinear().domain([-12, 20]).range([2524, 2138]);
  const yR = d3.scaleLinear().domain([-14, 2]).range([2524, 2138]);
  frame(104, 2090, 944, 2581);
  gridV(x, hourTicks, 2138, 2524).attr('stroke-dasharray', '1,2');
  gridH(yL, grassTicks.filter(v => v !== 0 && v !== 16 && v > -12 && v < 20), 159, 873).attr('stroke-dasharray', '1,2');
  gridH(yL, [0, 16], 159, 873).attr('stroke-width', 1.5);
  frame(159, 2138, 873, 2524);
  const clip = makeClip('c5', 159, 2138, 873, 2524);
  drawLine(grassAirDiff, x, yR, '#8a8a8a', 1, clip);
  drawLine(grassTemp, x, yL, '#000', 2.2, clip);
  labelsY(yL, grassTicks, 150, 12.5, false, 'bold');
  labelsY(yR, diffTicks, 883, 12, true);
  labelsX(x, evenHours, 2540, d => d * 100, 12);
  labelsX(x, oddHours, 2556, d => d * 100, 12);
  text(515, 2578, 'Time GMT', 13);
  yTitle(112, 2331, 'Grass Temp (Deg C)');
  yTitle(921, 2329, 'Grass Temp minus Air Temp (Deg C)');
  box(358, 2091, 665, 2133, true);
  text(511, 2119, 'Wokingham AWS May 13 2020', 18);
  box(453, 2448, 615, 2522, true);
  legendLine(463, 2471, '#000', 2.5); text(485, 2476, 'Grass level temp', 15, { anchor: 'start' });
  legendLine(463, 2500, '#8a8a8a', 1); text(485, 2505, 'Grass-air diff', 15, { anchor: 'start' });
}

// ---------- 6. rainfall ----------
{
  const x = d3.scaleLinear().domain([0, 24]).range([192, 872]);
  const y = d3.scaleLinear().domain([0, 10]).range([3042, 2631]);
  frame(119, 2624, 955, 3107);
  gridV(x, hourTicks, 2631, 3042).attr('stroke-dasharray', '1,2');
  gridH(y, [1, 3, 5, 7, 9], 170, 897).attr('stroke-dasharray', '1,2');
  gridH(y, [2, 4, 6, 8], 170, 897).attr('stroke-width', 3);
  frame(170, 2631, 897, 3042);
  drawLine(rainfall, x, y, '#000', 3, null);
  box(262, 2628, 548, 2685, false, false);
  box(562, 2625, 953, 2673, false, false);
  text(404, 2655, 'Wokingham AWS May 13 2020', 18);
  text(404, 2675, 'Rainfall (TBR)', 18);
  text(758, 2657, 'Corrected to equivalent of the standard gauge', 17);
  labelsY(y, rainTicks, 160, 12);
  labelsX(x, evenHours, 3060, d => d * 100, 12);
  labelsX(x, oddHours, 3074, d => d * 100, 12);
  text(532, 3095, 'Time (GMT)', 13);
  yTitle(128, 2836, 'Rainfall ( mm)');
  yTitle(921, 2836, 'Rainfall (mm)');
}

// ---------- 7. sunshine ----------
{
  const x = d3.scaleLinear().domain([3, 22]).range([200.6, 913.5]);
  const y = d3.scaleLinear().domain([0, 150]).range([3581, 3171]);
  frame(100, 3159, 955, 3629);
  gridH(y, [50, 100], 178, 947).attr('stroke', '#999').attr('stroke-dasharray', '1,1');
  gridV(x, sunHours, 3171, 3581).attr('stroke-dasharray', '3,3');
  frame(178, 3171, 947, 3581);
  box(373, 3165, 705, 3226, false, false);
  box(390, 3226, 687, 3284, false, false);
  drawLine(sunshine, x, y, '#000', 2, makeClip('c7', 178, 3171, 947, 3582));
  text(537, 3184, 'Wokingham sunshine', 17);
  text(537, 3215, '13-May', 23);
  text(550, 3247, '2020', 17, { weight: 'bold' });
  text(549, 3275, 'Total 4.06 Hrs', 24);
  labelsY(y, sunTicks, 165, 12);
  labelsX(x, sunHours, 3603, d => d, 17, 'bold');
  text(561, 3626, 'Time (GMT)', 12);
  yTitle(125, 3375, 'Sunshine (per cent per minute)');
}

// ---------- 8. wind direction ----------
{
  const x = d3.scaleLinear().domain([0, 24]).range([150.6, 916.7]);
  const y = d3.scaleLinear().domain([0, 360]).range([4173, 3723]);
  frame(43, 3706, 960, 4222);
  gridH(y, dirThin, 126, 942).attr('stroke-width', 1);
  gridV(x, hourTicks, 3723, 4173).attr('stroke-width', 1);
  gridH(y, dirTicks.slice(1, -1), 126, 942).attr('stroke-width', 3);
  frame(126, 3723, 942, 4173);
  box(404, 3707, 686, 3759, false, false);
  text(543, 3738, 'Wokingham,  13 May 2020', 18);
  text(543, 3753, '5 minute mean wind direction', 13);
  svg.append('g').selectAll('path').data(windDir).join('path')
    .attr('transform', d => `translate(${x(d[0])},${y(d[1])})`)
    .attr('d', d3.symbol().type(rhombus(4, 4.5))).attr('fill', '#000');
  labelsY(y, dirTicks, 116, 13);
  labelsX(x, hourTicks, 4191, d => d, 13);
  text(533, 4213, 'Time (GMT)', 13);
  yTitle(76, 3948, 'Direction, degrees true');
}

// ---------- 9. wind speed ----------
{
  const x = d3.scaleLinear().domain([0, 23]).range([122, 875]);
  const y = d3.scaleLinear().domain([0, 50]).range([4667, 4287]);
  frame(40, 4243, 957, 4738);
  gridV(x, hourTicks, 4287, 4667).attr('stroke-dasharray', '1,2');
  gridH(y, speedGrid, 99, 952).attr('stroke-dasharray', '1,2');
  frame(99, 4287, 952, 4667);
  const clip = makeClip('c9', 99, 4287, 952, 4667);
  drawLine(windGust, x, y, '#444', 1, clip);
  drawLine(windMean, x, y, '#000', 2.2, clip);
  svg.append('g').selectAll('path').data(windLow).join('path')
    .attr('transform', d => `translate(${x(d[0])},${y(d[1])})`)
    .attr('d', d3.symbol().type(rhombus(4.5, 4.5))).attr('fill', '#c8c8c8').attr('stroke', '#555').attr('stroke-width', 0.8);
  labelsY(y, speedTicks, 88, 13);
  const hh = d => String(d).padStart(2, '0') + ':00';
  labelsX(x, windEven, 4683, hh, 13);
  labelsX(x, windOdd, 4697, hh, 13);
  text(523, 4720, 'Time (GMT)', 14);
  yTitle(54, 4477, 'Speed (knots)');
  text(269, 4272, 'Wokingham,  13 May 2020', 19);
  text(579, 4261, 'Wind speed, 10 min mean / max gust', 13.5);
  text(579, 4278, 'Speeds below 4 kt shown at x10 scale', 13.5);
  box(733, 4250, 953, 4273, true);
  legendLine(763, 4262, '#000', 2.5);
  text(782, 4266, 'Speed x 1', 11, { anchor: 'start' });
  svg.append('path').attr('transform', 'translate(856,4262)').attr('d', d3.symbol().type(rhombus(4, 4))())
    .attr('fill', '#c8c8c8').attr('stroke', '#555').attr('stroke-width', 0.8);
  text(868, 4266, 'Speed / 10', 11, { anchor: 'start' });
}
</script>
</body>
</html>
